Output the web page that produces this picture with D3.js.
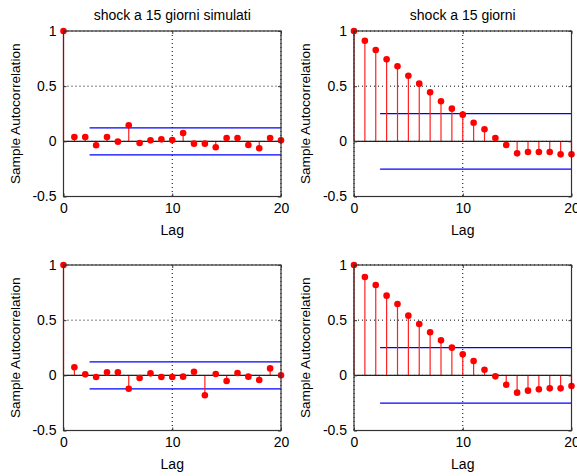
<!DOCTYPE html>
<html>
<head>
<meta charset="utf-8">
<script src="https://cdn.jsdelivr.net/npm/d3@7"></script>
<style>
  html, body { margin: 0; padding: 0; background: #fff; }
  svg { display: block; }
  text { font-family: "Liberation Sans", Arial, sans-serif; fill: #000; }
</style>
</head>
<body>
<svg id="chart" width="577" height="476"></svg>
<script>
const lags = d3.range(0, 21);
const titles = ["shock a 15 giorni simulati", "shock a 15 giorni", "", ""];
const yTicks = [-0.5, 0, 0.5, 1];
const yTickLabels = ["-0.5", "0", "0.5", "1"];
const xTicks = [0, 10, 20];
const xLabel = "Lag";
const yLabel = "Sample Autocorrelation";

const acfTopLeft = [1, 0.039, 0.039, -0.036, 0.039, -0.003, 0.145, -0.015, 0.009, 0.018, 0.011,
  0.075, -0.021, -0.021, -0.054, 0.030, 0.030, -0.033, -0.063, 0.030, 0.009];
const acfTopRight = [1, 0.912, 0.828, 0.743, 0.680, 0.595, 0.523, 0.444, 0.363, 0.296, 0.242,
  0.169, 0.109, 0.030, -0.033, -0.109, -0.097, -0.097, -0.097, -0.118, -0.118];
const acfBottomLeft = [1, 0.073, 0.009, -0.015, 0.027, 0.027, -0.121, -0.024, 0.018, -0.015, -0.015,
  -0.012, 0.033, -0.181, 0.012, -0.051, 0.021, -0.012, -0.042, 0.063, 0];
const acfBottomRight = [1, 0.891, 0.819, 0.722, 0.647, 0.541, 0.465, 0.390, 0.317, 0.251, 0.190,
  0.130, 0.051, -0.009, -0.085, -0.157, -0.139, -0.127, -0.118, -0.118, -0.097];
const bounds = [0.122, 0.251, 0.122, 0.251];
const boundStart = 2.4;

const series = [acfTopLeft, acfTopRight, acfBottomLeft, acfBottomRight];
const frames = [
  {x: 63.5, y: 31},
  {x: 354, y: 31},
  {x: 63.5, y: 265},
  {x: 354, y: 265}
];
const W = 217.5, H = 165.5;

const svg = d3.select("#chart");

series.forEach((vals, i) => {
  const f = frames[i];
  const g = svg.append("g").attr("transform", `translate(${f.x},${f.y})`);
  const x = d3.scaleLinear().domain([0, 20]).range([0, W]);
  const y = d3.scaleLinear().domain([-0.5, 1]).range([H, 0]);

  // grid
  g.selectAll(".gx").data(xTicks).join("line")
    .attr("x1", d => x(d)).attr("x2", d => x(d)).attr("y1", 0).attr("y2", H)
    .attr("stroke", "#000").attr("stroke-width", 1).attr("stroke-dasharray", "1,3");
  g.selectAll(".gy").data(yTicks).join("line")
    .attr("x1", 0).attr("x2", W).attr("y1", d => y(d)).attr("y2", d => y(d))
    .attr("stroke", "#000").attr("stroke-width", 1).attr("stroke-dasharray", "1,3");

  // confidence bounds
  [bounds[i], -bounds[i]].forEach(b => {
    g.append("line")
      .attr("x1", x(boundStart)).attr("x2", x(20))
      .attr("y1", y(b)).attr("y2", y(b))
      .attr("stroke", "#0000ff").attr("stroke-width", 1.3);
  });

  // stems
  g.selectAll(".stem").data(vals).join("line")
    .attr("x1", (d, k) => x(lags[k])).attr("x2", (d, k) => x(lags[k]))
    .attr("y1", y(0)).attr("y2", d => y(d))
    .attr("stroke", "#ff2020").attr("stroke-width", 1.2);

  // baseline
  g.append("line").attr("x1", 0).attr("x2", W).attr("y1", y(0)).attr("y2", y(0))
    .attr("stroke", "#222").attr("stroke-width", 1.2);

  // markers
  g.selectAll(".pt").data(vals).join("circle")
    .attr("cx", (d, k) => x(lags[k])).attr("cy", d => y(d)).attr("r", 3.3)
    .attr("fill", "#ff0000");

  // box
  g.append("rect").attr("x", 0).attr("y", 0).attr("width", W).attr("height", H)
    .attr("fill", "none").attr("stroke", "#333").attr("stroke-width", 1.2);

  // axes (ticks inward)
  const xa = g.append("g").attr("transform", `translate(0,${H})`)
    .call(d3.axisBottom(x).tickValues(xTicks).tickSizeInner(-3).tickSizeOuter(0).tickPadding(7).tickFormat(d3.format("d")));
  const xa2 = g.append("g")
    .call(d3.axisTop(x).tickValues(xTicks).tickSizeInner(-3).tickSizeOuter(0).tickFormat(""));
  const ya = g.append("g")
    .call(d3.axisLeft(y).tickValues(yTicks).tickSizeInner(-3).tickSizeOuter(0).tickPadding(7)
      .tickFormat((d, k) => yTickLabels[k]));
  const ya2 = g.append("g").attr("transform", `translate(${W},0)`)
    .call(d3.axisRight(y).tickValues(yTicks).tickSizeInner(-3).tickSizeOuter(0).tickFormat(""));
  [xa, xa2, ya, ya2].forEach(a => {
    a.select(".domain").remove();
    a.selectAll("line").attr("stroke", "#333");
    a.selectAll("text").style("font-size", "14px").attr("fill", "#000")
      .style("font-family", '"Liberation Sans", Arial, sans-serif');
  });

  // labels
  g.append("text").attr("x", W / 2).attr("y", H + 38).attr("text-anchor", "middle")
    .style("font-size", "14px").text(xLabel);
  g.append("text").attr("transform", `translate(-44,${H / 2}) rotate(-90)`)
    .attr("text-anchor", "middle").style("font-size", "13.6px").text(yLabel);
  if (titles[i]) {
    g.append("text").attr("x", W / 2).attr("y", -11).attr("text-anchor", "middle")
      .style("font-size", "14px").text(titles[i]);
  }
});
</script>
</body>
</html>
